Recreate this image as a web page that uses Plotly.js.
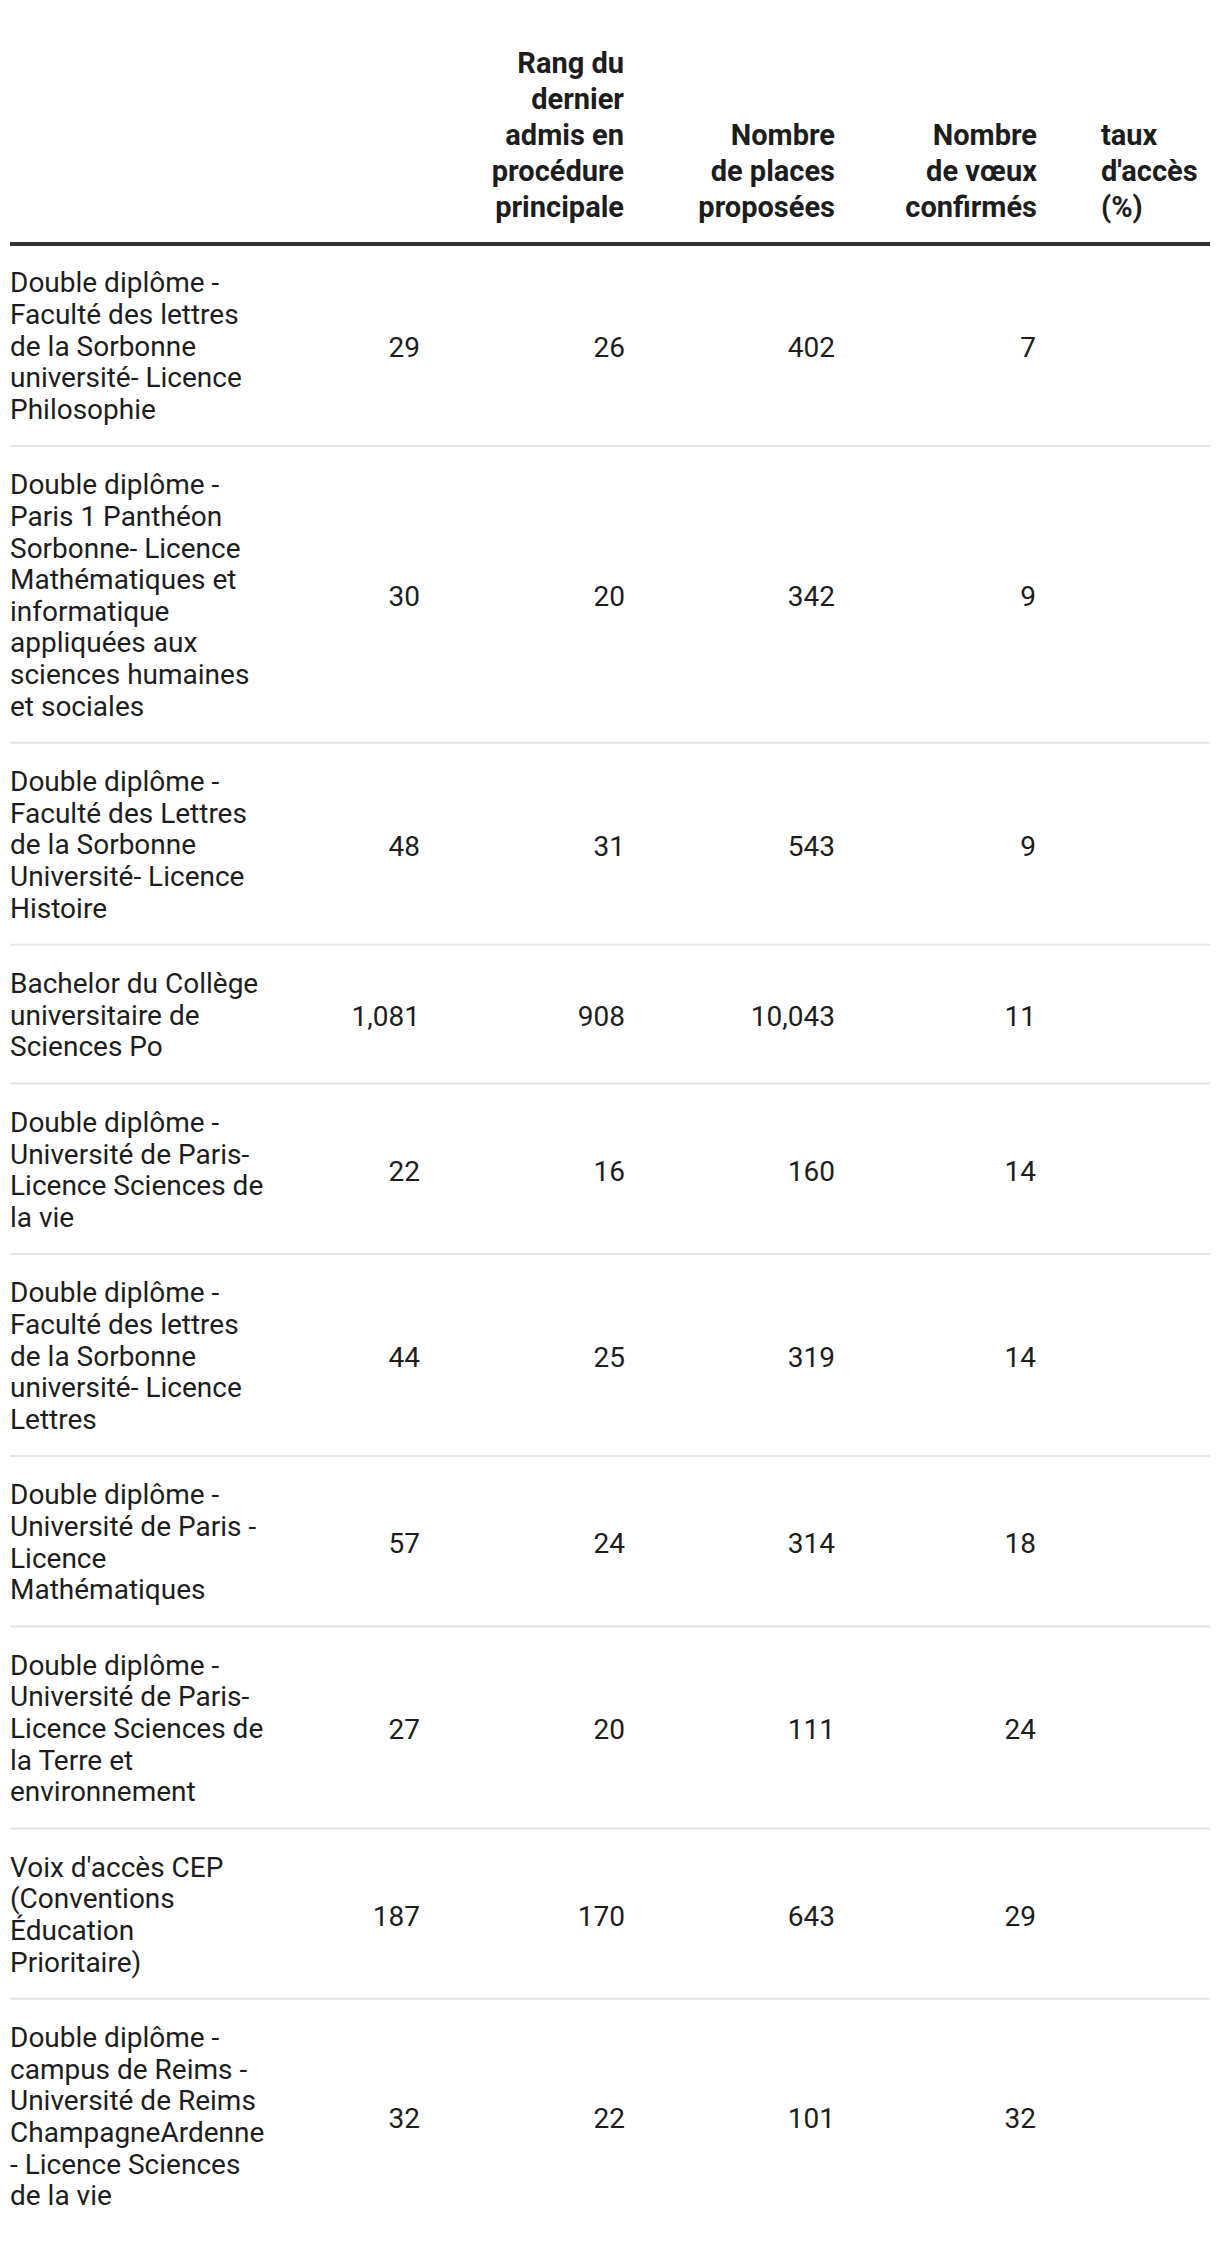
<!DOCTYPE html>
<html>
<head>
<meta charset="utf-8">
<script src="https://cdn.plot.ly/plotly-3.0.1.min.js"></script>
<style>
  html, body { margin: 0; padding: 0; background: #ffffff; }
  #chart { width: 1220px; height: 2242px; }
</style>
</head>
<body>
<div id="chart"></div>
<script>
// ---------- DATA ----------
const headers = [
  "",
  "",
  "Rang du<br>dernier<br>admis en<br>procédure<br>principale",
  "Nombre<br>de places<br>proposées",
  "Nombre<br>de vœux<br>confirmés",
  "taux<br>d'accès<br>(%)"
];

const formations = [
  "Double diplôme -<br>Faculté des lettres<br>de la Sorbonne<br>université- Licence<br>Philosophie",
  "Double diplôme -<br>Paris 1 Panthéon<br>Sorbonne- Licence<br>Mathématiques et<br>informatique<br>appliquées aux<br>sciences humaines<br>et sociales",
  "Double diplôme -<br>Faculté des Lettres<br>de la Sorbonne<br>Université- Licence<br>Histoire",
  "Bachelor du Collège<br>universitaire de<br>Sciences Po",
  "Double diplôme -<br>Université de Paris-<br>Licence Sciences de<br>la vie",
  "Double diplôme -<br>Faculté des lettres<br>de la Sorbonne<br>université- Licence<br>Lettres",
  "Double diplôme -<br>Université de Paris -<br>Licence<br>Mathématiques",
  "Double diplôme -<br>Université de Paris-<br>Licence Sciences de<br>la Terre et<br>environnement",
  "Voix d'accès CEP<br>(Conventions<br>Éducation<br>Prioritaire)",
  "Double diplôme -<br>campus de Reims -<br>Université de Reims<br>ChampagneArdenne<br>- Licence Sciences<br>de la vie"
];

const col1Values   = [29, 30, 48, 1081, 22, 44, 57, 27, 187, 32];
const rangValues   = [26, 20, 31, 908, 16, 25, 24, 20, 170, 22];
const placesValues = [402, 342, 543, 10043, 160, 319, 314, 111, 643, 101];
const voeuxValues  = [7, 9, 9, 11, 14, 14, 18, 24, 29, 32];
const tauxValues   = ["", "", "", "", "", "", "", "", "", ""];

// ---------- LAYOUT CONSTANTS ----------
const W = 1220, H = 2242;
const FONT = "Roboto, 'Noto Sans', Arial, sans-serif";
const FS = 28;
const HEAD_FS = 29;
const TEXT_COLOR = "#1d1d1d";
const LINE_H = 31.6;       // body line spacing
const ROW_PAD = 44;        // vertical padding per row
const HEAD_LINE_H = 36;    // header line spacing
const HEAD_BOTTOM_Y = 210; // centre of last header line
const HEAD_RULE_Y = 244;
const LEFT = 10, RIGHT = 1210;
const colAnchors = [
  [LEFT, "middle right"],
  [420, "middle left"],
  [625, "middle left"],
  [835, "middle left"],
  [1036, "middle left"],
  [1103, "middle right"]
];
const headAnchors = [
  [LEFT, "middle right"],
  [420, "middle left"],
  [624, "middle left"],
  [835, "middle left"],
  [1037, "middle left"],
  [1101, "middle right"]
];

// ---------- BUILD ----------
const fmt = v => (v === "" || v === null) ? "" : Number(v).toLocaleString("en-US");
const traces = [];
const shapes = [];

const hx = [], hy = [], ht = [], hp = [];
headers.forEach((h, c) => {
  if (!h) return;
  const lines = h.split("<br>");
  const n = lines.length;
  lines.forEach((ln, j) => {
    hx.push(headAnchors[c][0]);
    hy.push(HEAD_BOTTOM_Y - (n - 1 - j) * HEAD_LINE_H);
    ht.push(ln);
    hp.push(headAnchors[c][1]);
  });
});
traces.push({
  type: "scatter", mode: "text", x: hx, y: hy, text: ht, textposition: hp,
  textfont: { family: FONT, size: HEAD_FS, color: TEXT_COLOR, weight: "bold" },
  hoverinfo: "skip", showlegend: false, cliponaxis: false
});

shapes.push({
  type: "line", xref: "x", yref: "y", x0: LEFT, x1: RIGHT, y0: HEAD_RULE_Y, y1: HEAD_RULE_Y,
  line: { color: "#333333", width: 4 }
});

let rowTop = HEAD_RULE_Y;
const nx = [], ny = [], nt = [];
const numCols = [col1Values, rangValues, placesValues, voeuxValues, tauxValues];
const numPts = numCols.map(() => ({ x: [], y: [], t: [] }));
formations.forEach((f, i) => {
  const lines = f.split("<br>");
  const n = lines.length;
  const h = ROW_PAD + n * LINE_H;
  const centre = rowTop + h / 2;
  lines.forEach((ln, j) => {
    nx.push(colAnchors[0][0]);
    ny.push(centre + 3.5 + (j - (n - 1) / 2) * LINE_H);
    nt.push(ln);
  });
  numCols.forEach((col, c) => {
    numPts[c].x.push(colAnchors[c + 1][0]);
    numPts[c].y.push(centre + 5);
    numPts[c].t.push(fmt(col[i]));
  });
  rowTop += h;
  if (i < formations.length - 1) {
    shapes.push({
      type: "line", xref: "x", yref: "y", x0: LEFT, x1: RIGHT, y0: rowTop, y1: rowTop,
      line: { color: "#e6e6e6", width: 2 }, layer: "below"
    });
  }
});

traces.push({
  type: "scatter", mode: "text", x: nx, y: ny, text: nt, textposition: "middle right",
  textfont: { family: FONT, size: FS, color: TEXT_COLOR },
  hoverinfo: "skip", showlegend: false, cliponaxis: false
});
numPts.forEach((p, c) => {
  traces.push({
    type: "scatter", mode: "text", x: p.x, y: p.y, text: p.t,
    textposition: colAnchors[c + 1][1],
    textfont: { family: FONT, size: FS, color: TEXT_COLOR },
    hoverinfo: "skip", showlegend: false, cliponaxis: false
  });
});

const layout = {
  width: W, height: H,
  margin: { l: 0, r: 0, t: 0, b: 0, pad: 0 },
  paper_bgcolor: "#ffffff", plot_bgcolor: "#ffffff",
  showlegend: false,
  xaxis: { range: [0, W], visible: false, fixedrange: true },
  yaxis: { range: [H, 0], visible: false, fixedrange: true },
  shapes: shapes,
  hovermode: false
};

Plotly.newPlot("chart", traces, layout, { displayModeBar: false, staticPlot: true });
</script>
</body>
</html>
